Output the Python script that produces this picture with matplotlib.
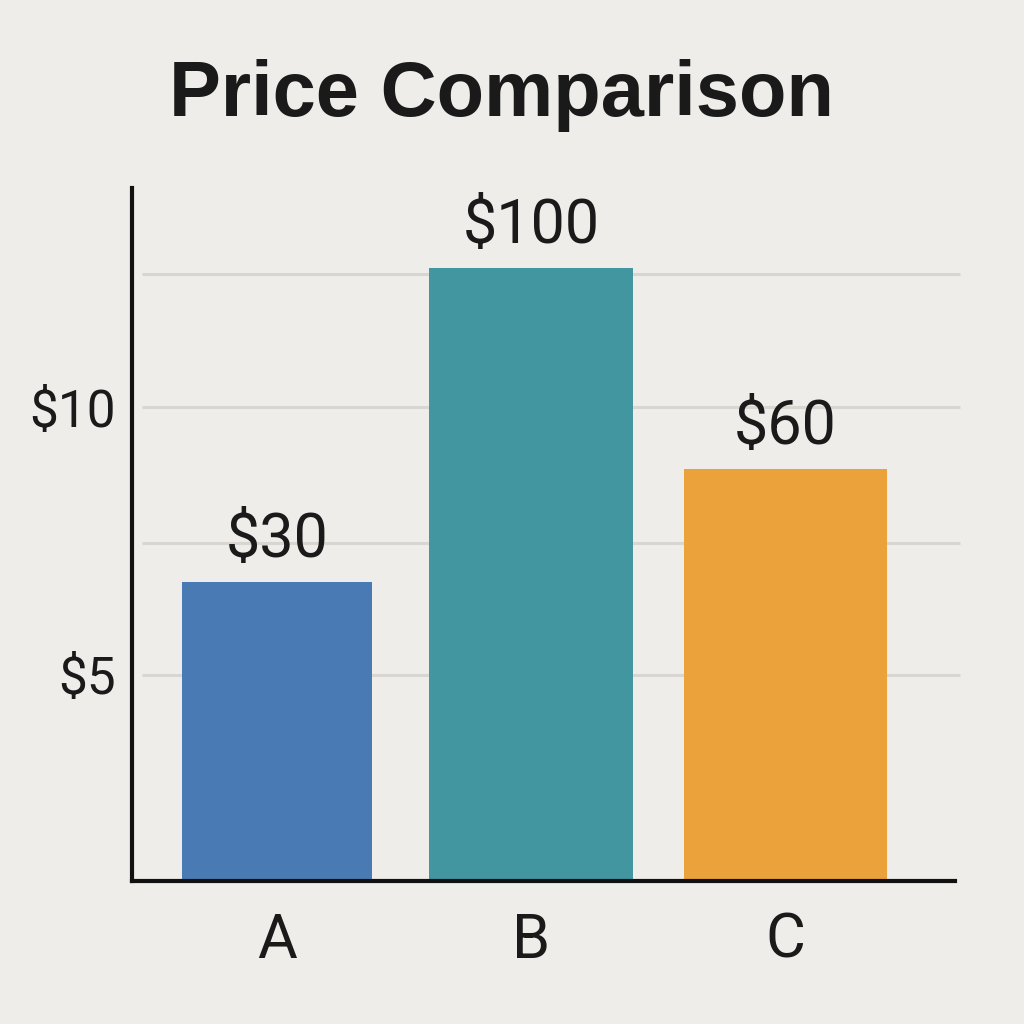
import matplotlib
matplotlib.use("Agg")
import matplotlib.pyplot as plt

# Data (visual heights in chart units; labels as printed on the chart)
categories = ["A", "B", "C"]
bar_heights = [2.25, 4.61, 3.10]
value_labels = ["$30", "$100", "$60"]
bar_colors = ["#4a7ab3", "#4196a0", "#eba23a"]
bar_widths = [0.75, 0.8, 0.8]
grid_levels = [1.55, 2.54, 3.56, 4.56]
ytick_positions = [1.55, 3.56]
ytick_labels = ["$5", "$10"]

bg = "#efede9"
fig = plt.figure(figsize=(10.24, 10.24), dpi=100, facecolor=bg)
ax = fig.add_axes([0.129, 0.1396, 0.804, 0.677], facecolor=bg)

x = list(range(len(categories)))
ax.set_xlim(-0.57, 2.67)
ax.set_ylim(0, 5.21)

ax.hlines(grid_levels, -0.53, 2.69, colors="#d9d6d1", linewidth=2.2, zorder=1, clip_on=False)

ax.bar(x, bar_heights, width=bar_widths, color=bar_colors, zorder=2)

for xi, h, lab in zip(x, bar_heights, value_labels):
    ax.annotate(lab, (xi, h), xytext=(0, 9), textcoords="offset points",
                ha="center", va="bottom", fontsize=44, family="Roboto", color="#1a1a1a")

for s in ["top", "right"]:
    ax.spines[s].set_visible(False)
for s in ["left", "bottom"]:
    ax.spines[s].set_linewidth(3)
    ax.spines[s].set_color("#111111")

ax.set_xticks(x)
ax.set_xticklabels(categories, fontsize=44, family="Roboto", color="#1a1a1a")
ax.set_yticks(ytick_positions)
ax.set_yticklabels(ytick_labels, fontsize=37, family="Roboto", color="#1a1a1a")
ax.tick_params(axis="x", length=0, pad=22)
ax.tick_params(axis="y", length=0, pad=12)

fig.text(0.49, 0.907, "Price Comparison", ha="center", va="center",
         fontsize=56, fontweight="bold", family="Liberation Sans", color="#1a1a1a")

fig.savefig("out.png", dpi=100, facecolor=bg)
